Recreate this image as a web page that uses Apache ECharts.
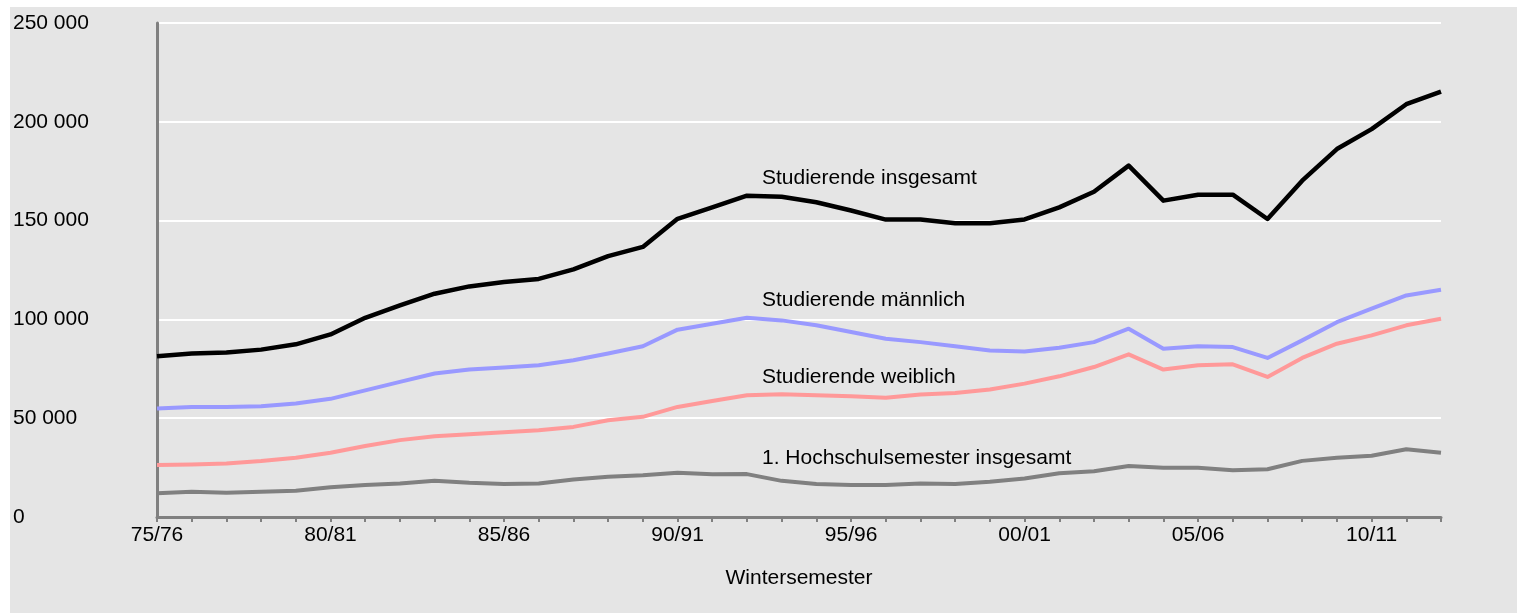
<!DOCTYPE html>
<html>
<head>
<meta charset="utf-8">
<title>Studierende</title>
<script src="https://cdn.jsdelivr.net/npm/echarts@6/dist/echarts.min.js"></script>
<style>
  html, body { margin: 0; padding: 0; background: #ffffff; }
  #chart { width: 1522px; height: 613px; }
</style>
</head>
<body>
<div id="chart"></div>
<script>
// Wintersemester 75/76 bis 12/13
let semester = [
  "75/76", "76/77", "77/78", "78/79", "79/80", "80/81", "81/82", "82/83", "83/84", "84/85",
  "85/86", "86/87", "87/88", "88/89", "89/90", "90/91", "91/92", "92/93", "93/94", "94/95",
  "95/96", "96/97", "97/98", "98/99", "99/00", "00/01", "01/02", "02/03", "03/04", "04/05",
  "05/06", "06/07", "07/08", "08/09", "09/10", "10/11", "11/12", "12/13"
];
let insgesamt = [
  81300, 82700, 83200, 84700, 87400, 92400, 100800, 107100, 113000, 116700,
  118900, 120500, 125300, 132000, 136700, 150900, 156700, 162600, 162100, 159300,
  155100, 150500, 150500, 148700, 148700, 150600, 156700, 164600, 177800, 160100,
  163100, 163100, 150800, 170200, 186200, 196300, 208900, 215300
];
let maennlich = [
  54900, 55700, 55700, 56100, 57400, 59800, 64100, 68400, 72600, 74600,
  75600, 76800, 79300, 82700, 86400, 94800, 97800, 100800, 99500, 97000,
  93600, 90200, 88500, 86400, 84300, 83800, 85700, 88500, 95300, 85200,
  86400, 86000, 80500, 89400, 98600, 105400, 112100, 115000
];
let weiblich = [
  26300, 26600, 27100, 28300, 30000, 32500, 35900, 38900, 40900, 41900,
  42900, 43900, 45600, 49000, 50700, 55700, 58700, 61600, 62100, 61600,
  61100, 60400, 62000, 62800, 64500, 67500, 71200, 75900, 82300, 74600,
  76800, 77300, 70900, 80500, 87700, 91900, 97000, 100300
];
let ersteSemester = [
  12000, 12800, 12300, 12800, 13300, 15000, 16200, 17000, 18300, 17300,
  16700, 17000, 19000, 20400, 21100, 22400, 21600, 21700, 18300, 16700,
  16200, 16200, 17000, 16700, 17800, 19500, 22100, 23200, 25800, 24900,
  24900, 23700, 24200, 28400, 30000, 31000, 34300, 32500
];
let yTicks = [0, 50000, 100000, 150000, 200000, 250000];

let font = "'Liberation Sans', Arial, sans-serif";

function lineSeries(name, data, color, width, z) {
  return {
    name: name,
    type: "line",
    data: data,
    symbol: "none",
    z: z,
    lineStyle: { color: color, width: width, join: "round" }
  };
}

function seriesLabel(text, y) {
  return {
    type: "text",
    x: 762,
    y: y,
    z: 10,
    style: {
      text: text,
      fill: "#000000",
      font: "21px " + font,
      verticalAlign: "middle"
    }
  };
}

let myChart = echarts.init(document.getElementById("chart"), null, { renderer: "canvas" });

myChart.setOption({
  animation: false,
  textStyle: { fontFamily: font },
  graphic: [
    {
      type: "rect",
      z: -100,
      shape: { x: 10, y: 7, width: 1507, height: 606 },
      style: { fill: "#e5e5e5" }
    },
    seriesLabel("Studierende insgesamt", 178),
    seriesLabel("Studierende männlich", 300),
    seriesLabel("Studierende weiblich", 377),
    seriesLabel("1. Hochschulsemester insgesamt", 458)
  ],
  grid: { left: 157, right: 81, top: 23, bottom: 96, containLabel: false },
  xAxis: {
    type: "category",
    data: semester,
    boundaryGap: false,
    name: "Wintersemester",
    nameLocation: "middle",
    nameGap: 51,
    nameTextStyle: { color: "#000000", fontSize: 21, fontFamily: font },
    axisLine: { lineStyle: { color: "#808080", width: 3 } },
    axisTick: { show: true, interval: 0, length: 5, lineStyle: { color: "#808080", width: 2 } },
    axisLabel: { interval: 4, margin: 8, color: "#000000", fontSize: 21, fontFamily: font },
    splitLine: { show: false }
  },
  yAxis: {
    type: "value",
    min: yTicks[0],
    max: yTicks[yTicks.length - 1],
    interval: yTicks[1] - yTicks[0],
    axisLine: { show: true, lineStyle: { color: "#808080", width: 3 } },
    axisTick: { show: false },
    axisLabel: {
      align: "left",
      margin: 144,
      color: "#000000",
      fontSize: 21,
      fontFamily: font,
      formatter: function(v) {
        return String(v).replace(/\B(?=(\d{3})+(?!\d))/g, " ");
      }
    },
    splitLine: { show: true, lineStyle: { color: "#ffffff", width: 2 } }
  },
  series: [
    lineSeries("1. Hochschulsemester insgesamt", ersteSemester, "#808080", 4, 2),
    lineSeries("Studierende weiblich", weiblich, "#ff9999", 4, 3),
    lineSeries("Studierende männlich", maennlich, "#9999ff", 4, 4),
    lineSeries("Studierende insgesamt", insgesamt, "#000000", 4.5, 5)
  ]
});
</script>
</body>
</html>
